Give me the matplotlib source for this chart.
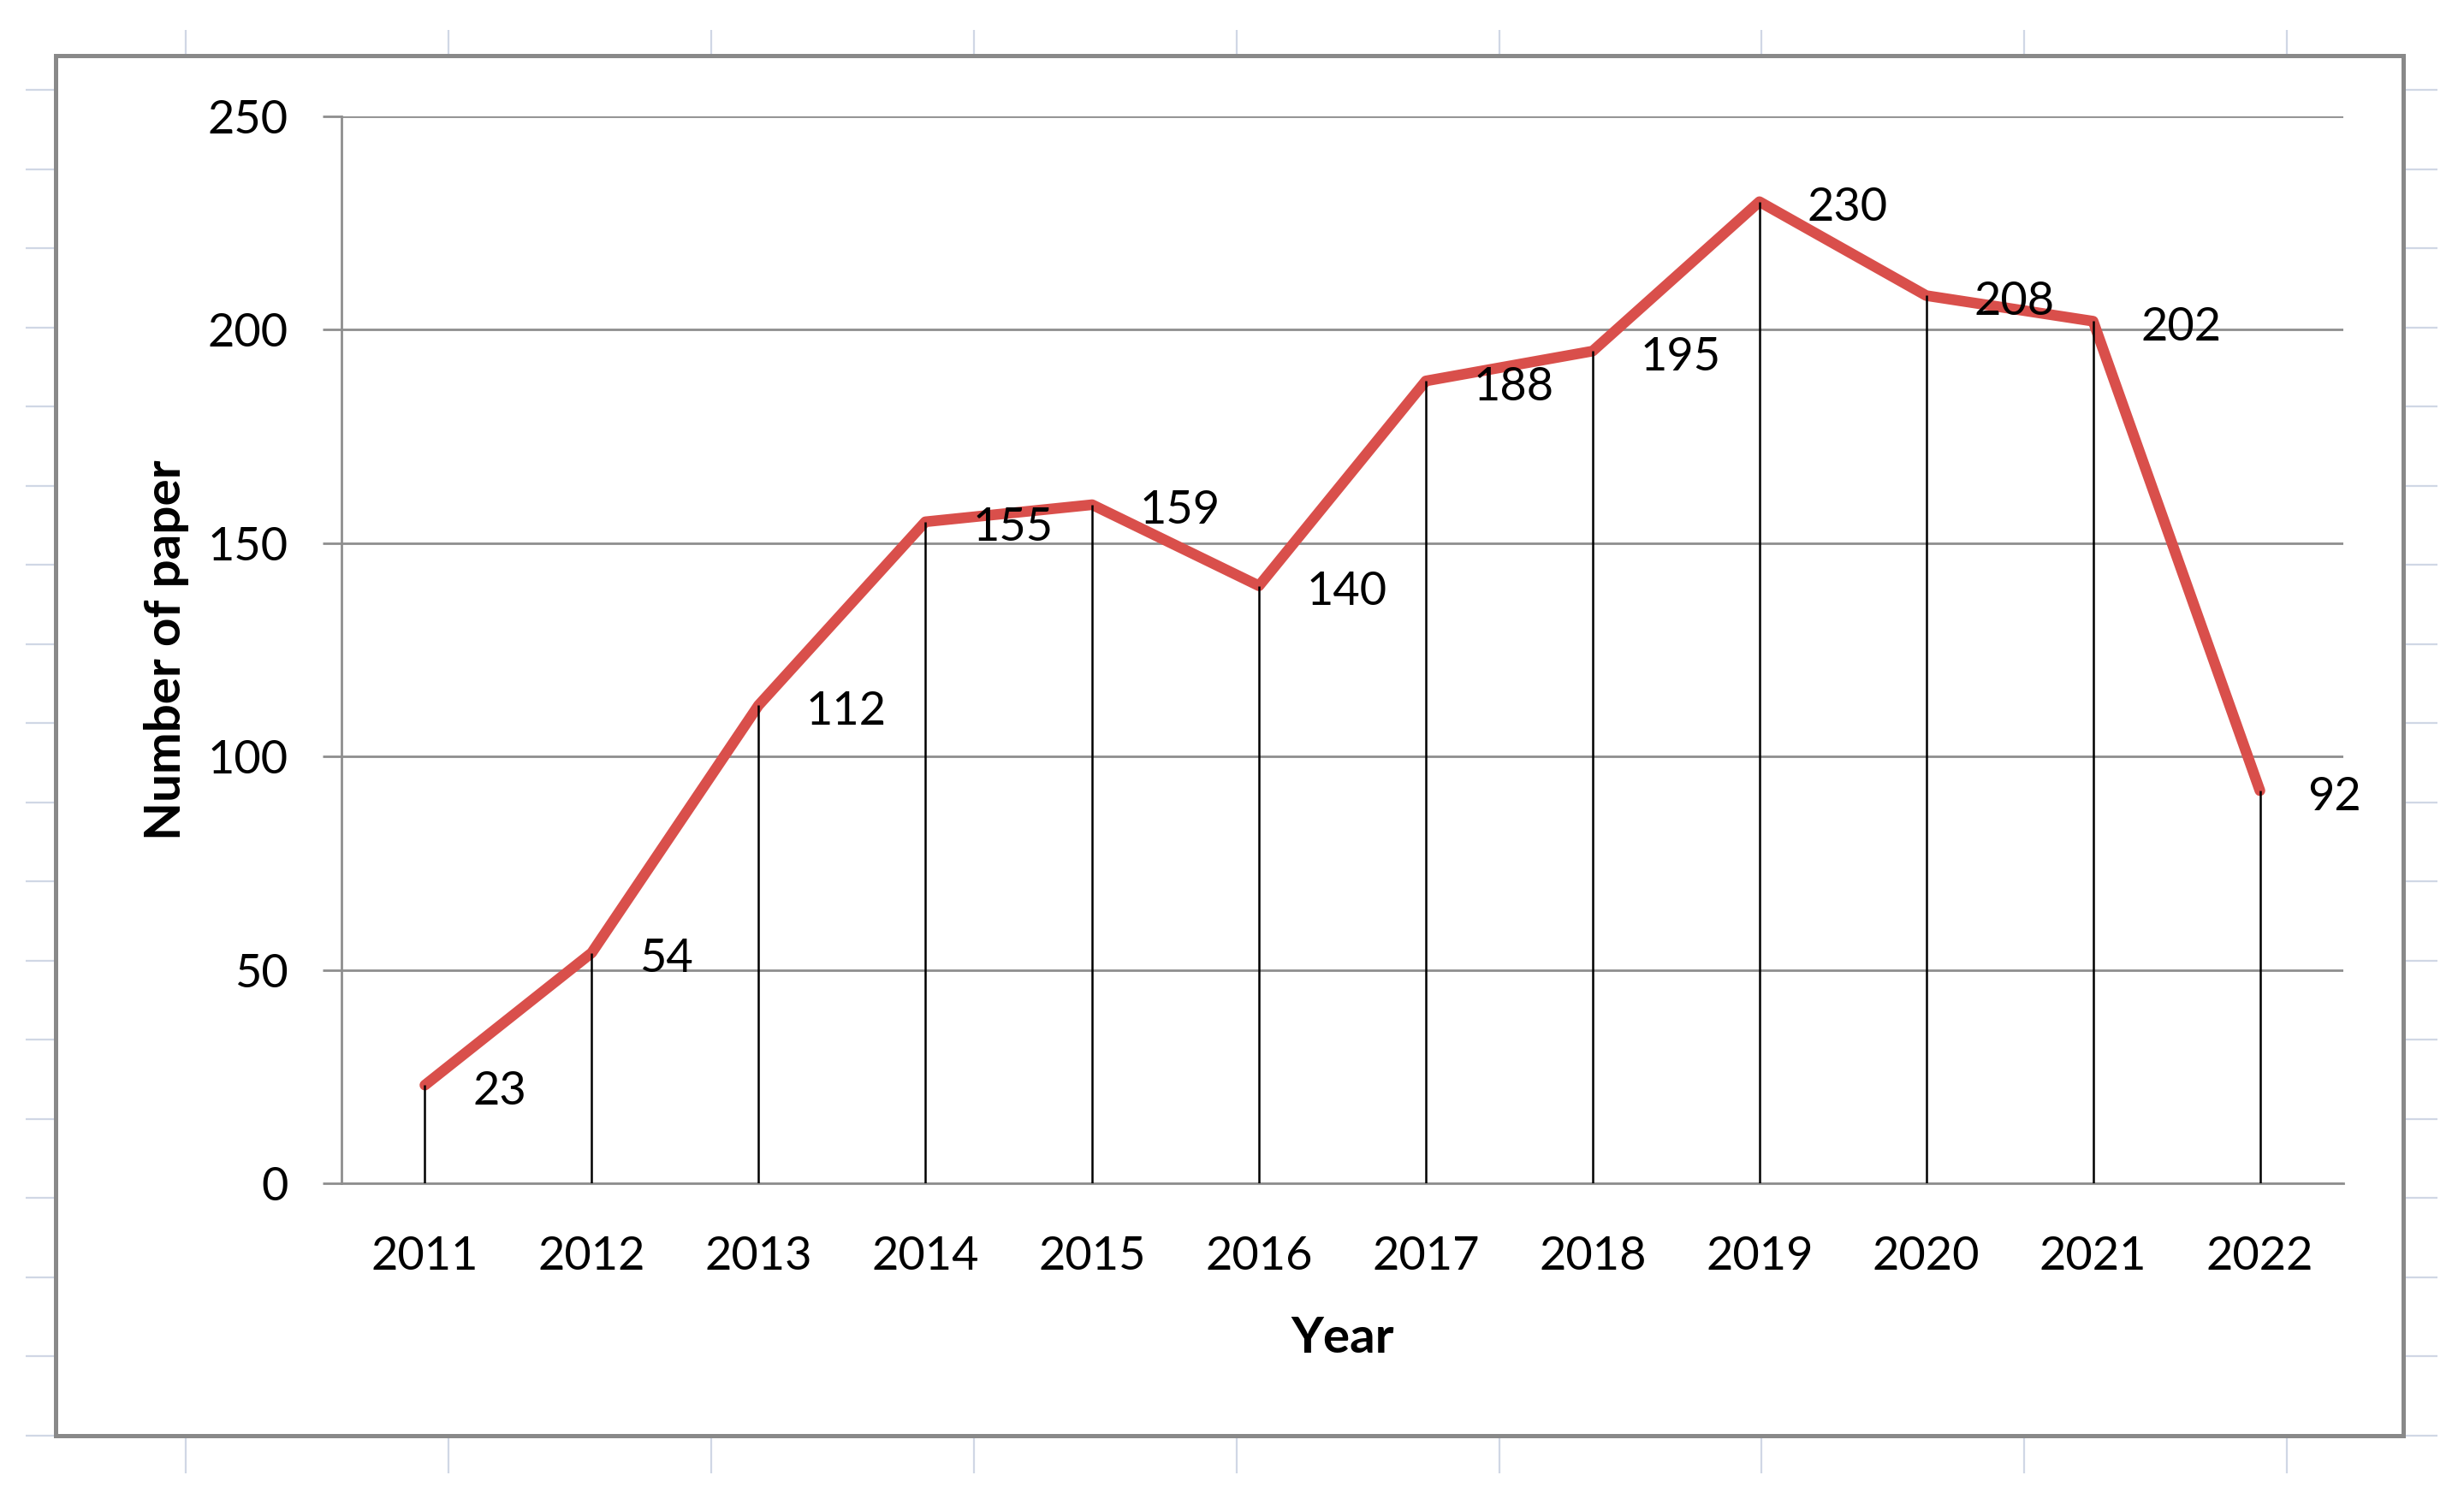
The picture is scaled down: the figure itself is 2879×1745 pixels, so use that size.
import matplotlib.pyplot as plt
from matplotlib.patches import Rectangle

# DATA:
years = ['2011', '2012', '2013', '2014', '2015', '2016',
         '2017', '2018', '2019', '2020', '2021', '2022']
papers = [23, 54, 112, 155, 159, 140, 188, 195, 230, 208, 202, 92]
y_ticks = [0, 50, 100, 150, 200, 250]

# FIGURE SETTINGS (2879 x 1745 px at 200 dpi):
W, H = 2879, 1745
DPI = 200
plt.rcParams['font.family'] = ['Lato', 'DejaVu Sans']

RED = '#d94f4b'
GRID = '#8e8e8e'
SHEET = '#d0d7e5'

fig = plt.figure(figsize=(W / DPI, H / DPI), dpi=DPI)
fig.patch.set_facecolor('white')

# SPREADSHEET BACKGROUND + CHART FRAME (pixel coordinates):
bg = fig.add_axes([0, 0, 1, 1])
bg.set_xlim(0, W)
bg.set_ylim(H, 0)
bg.axis('off')
sheet_rows = [105 + 92.5 * k for k in range(18)]
sheet_cols = [217 + 306.9 * k for k in range(9)]
bg.hlines(sheet_rows, 30, 2848, color=SHEET, lw=0.8, zorder=1)
bg.vlines(sheet_cols, 35, 1722, color=SHEET, lw=0.8, zorder=1)
bg.add_patch(Rectangle((65, 64.5), 2743, 1613.5, facecolor='white',
                       edgecolor='#898989', lw=1.8, zorder=2))

# PLOT AREA:
left, right = 399 / W, 2738 / W
top, bottom = 1 - 136 / H, 1 - 1383 / H
ax = fig.add_axes([left, bottom, right - left, top - bottom])
ax.set_facecolor('none')

x = list(range(len(years)))
ax.plot(x, papers, color=RED, lw=4.5, solid_joinstyle='round',
        solid_capstyle='round', zorder=3)
ax.vlines(x, 0, papers, color='black', lw=0.9, zorder=4)  # drop lines

for xi, v in zip(x, papers):
    ax.annotate(str(v), (xi, v), xytext=(20, -2.5), textcoords='offset points',
                ha='left', va='center', fontsize=19.5, color='black', zorder=5)

# AXES STYLING:
ax.set_xlim(-0.5, len(years) - 0.5)
ax.set_ylim(0, 250)
ax.set_xticks(x)
ax.set_xticklabels(years)
ax.set_yticks(y_ticks)
ax.yaxis.grid(True, color=GRID, lw=1.0)
ax.set_axisbelow(True)
for side in ['top', 'right']:
    ax.spines[side].set_visible(False)
for side in ['left', 'bottom']:
    ax.spines[side].set_color(GRID)
    ax.spines[side].set_linewidth(1.0)
ax.tick_params(axis='y', length=7.9, width=1.0, color=GRID, pad=14.4,
               labelsize=19.5, labelcolor='black')
ax.tick_params(axis='x', length=0, pad=22, labelsize=19.5, labelcolor='black')

ax.set_xlabel('Year', fontsize=21, fontweight='bold')
ax.set_ylabel('Number of paper', fontsize=21, fontweight='bold')
ax.xaxis.set_label_coords(0.5, -0.124)
ax.yaxis.set_label_coords(-0.076, 0.5)

fig.savefig('out.png', dpi=DPI)
